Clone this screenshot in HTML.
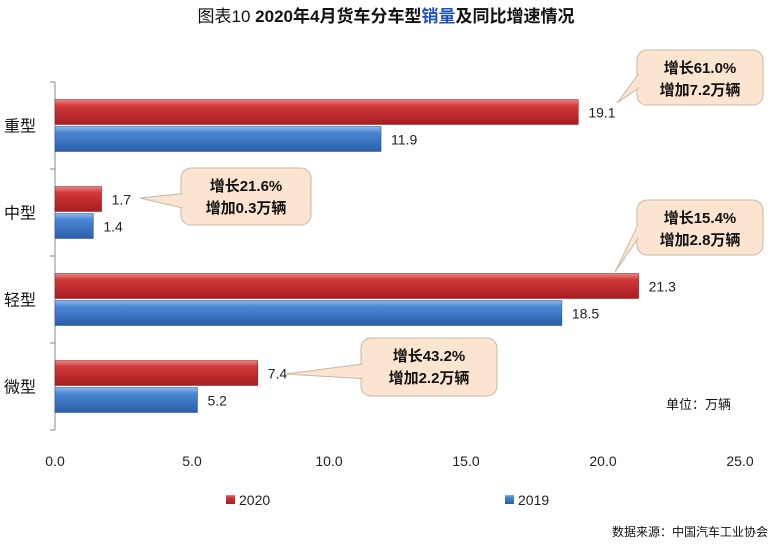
<!DOCTYPE html>
<html><head><meta charset="utf-8"><style>
body{margin:0;background:#fff;}
svg text{font-family:"Liberation Sans","Noto Sans CJK SC",sans-serif;}
</style></head><body>
<svg id="chart" width="773" height="544" viewBox="0 0 773 544">
<defs>
<linearGradient id="gr" x1="0" y1="0" x2="0" y2="1"><stop offset="0" stop-color="#e58a88"/><stop offset="0.25" stop-color="#d2383a"/><stop offset="1" stop-color="#a51d20"/></linearGradient>
<linearGradient id="gb" x1="0" y1="0" x2="0" y2="1"><stop offset="0" stop-color="#8fb8ea"/><stop offset="0.25" stop-color="#4a86d4"/><stop offset="1" stop-color="#2a5ea8"/></linearGradient>
</defs>
<text x="386" y="22" text-anchor="middle" font-size="17" font-weight="bold" fill="#111"><tspan font-weight="normal">图表10</tspan>     2020年4月货车分车型<tspan fill="#1f4fc0">销量</tspan>及同比增速情况</text>
<g id="axes"></g>
<g id="bars"></g>
<g id="callouts"></g>
<text x="666" y="409" font-size="13" fill="#111">单位：万辆</text>
<rect x="226" y="495" width="9" height="9" fill="url(#gr)"/>
<text x="239" y="505" font-size="14" fill="#222">2020</text>
<rect x="505" y="495" width="9" height="9" fill="url(#gb)"/>
<text x="518" y="505" font-size="14" fill="#222">2019</text>
<text x="768" y="536" text-anchor="end" font-size="12" fill="#111">数据来源：中国汽车工业协会</text>
</svg>
<script>
const categories = ["重型","中型","轻型","微型"];
const values2020 = [19.1, 1.7, 21.3, 7.4];
const values2019 = [11.9, 1.4, 18.5, 5.2];
const xTicks = [0, 5, 10, 15, 20, 25];
const calloutLines1 = ["增长61.0%","增长21.6%","增长15.4%","增长43.2%"];
const calloutLines2 = ["增加7.2万辆","增加0.3万辆","增加2.8万辆","增加2.2万辆"];
const NS="http://www.w3.org/2000/svg";
const x0=55, x1=740, yTop=82, band=87;
const xs=v=>x0+(v/25)*(x1-x0);
const yc=i=>yTop+band*i+band/2;
function mk(tag,attrs,parent,text){const e=document.createElementNS(NS,tag);for(const k in attrs)e.setAttribute(k,attrs[k]);if(text!==undefined)e.textContent=text;parent.appendChild(e);return e;}
const axes=document.getElementById('axes'), bars=document.getElementById('bars'), co=document.getElementById('callouts');
let ax=mk('line',{x1:x0,y1:yTop,x2:x0,y2:yTop+band*categories.length,stroke:'#888'},axes);


for(let i=0;i<=categories.length;i++){
  let t=mk('line',{x1:x0-5,y1:yTop+band*i,x2:x0,y2:yTop+band*i,stroke:'#888'},axes);
  
  
}
xTicks.forEach(v=>{
  let t=mk('text',{x:xs(v),y:466,'text-anchor':'middle','font-size':14,fill:'#222'},axes,v.toFixed(1));
  
  
});
categories.forEach((c,i)=>{
  const cy=yc(i);
  let l=mk('text',{x:4,y:cy+6,'font-size':16,fill:'#111'},axes,c);
  
  
  let r=mk('rect',{x:x0,y:cy-26,width:xs(values2020[i])-x0,height:25,fill:'url(#gr)',stroke:'#8a1a1a','stroke-width':0.5},bars);
  
  
  let b=mk('rect',{x:x0,y:cy+1,width:xs(values2019[i])-x0,height:25,fill:'url(#gb)',stroke:'#244f8e','stroke-width':0.5},bars);
  
  
  let t1=mk('text',{x:xs(values2020[i])+10,y:cy-8,'font-size':14,fill:'#222'},bars,values2020[i].toFixed(1));
  
  
  let t2=mk('text',{x:xs(values2019[i])+10,y:cy+19,'font-size':14,fill:'#222'},bars,values2019[i].toFixed(1));
  
  
});
const boxes=[[637,50,126,55,617,103],[181,168,130,57,140,198],[637,200,126,55,615,272],[361,338,136,58,285,374]];
boxes.forEach((bx,i)=>{
  const [x,y,w,h,tx,ty]=bx;
  let g=mk('g',{},co);
  
  
  mk('rect',{x,y,width:w,height:h,rx:10,fill:'#fbe4d0',stroke:'#c9b7a5'},g);
  let tri;
  if(tx<x){tri=`${x+1},${y+h*0.45} ${tx},${ty} ${x+1},${y+h*0.7}`;}
  else{tri=`${x+12},${y+h-1} ${tx},${ty} ${x+30},${y+h-1}`;}
  mk('polygon',{points:tri,fill:'#fbe4d0',stroke:'#c9b7a5'},g);
  if(tx<x)mk('line',{x1:x+1,y1:y+h*0.45+1,x2:x+1,y2:y+h*0.7-1,stroke:'#fbe4d0','stroke-width':2},g);
  else mk('line',{x1:x+13,y1:y+h-1,x2:x+29,y2:y+h-1,stroke:'#fbe4d0','stroke-width':2},g);
  mk('text',{x:x+w/2,y:y+23,'text-anchor':'middle','font-size':15,'font-weight':'bold',fill:'#111'},g,calloutLines1[i]);
  mk('text',{x:x+w/2,y:y+45,'text-anchor':'middle','font-size':15,'font-weight':'bold',fill:'#111'},g,calloutLines2[i]);
});
</script>
</body></html>
